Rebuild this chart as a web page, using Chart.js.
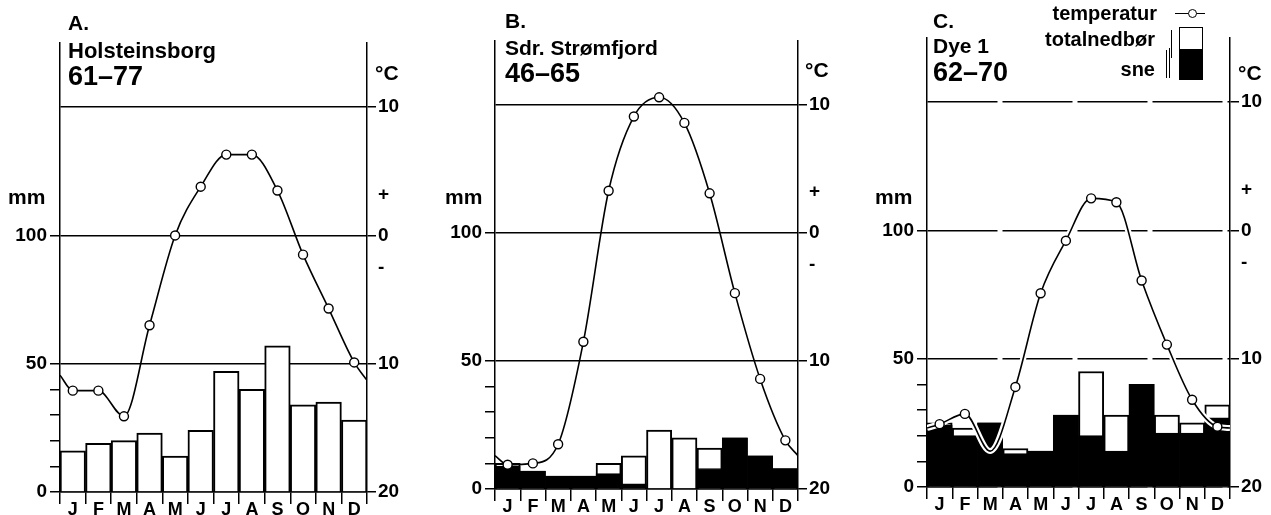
<!DOCTYPE html>
<html>
<head>
<meta charset="utf-8">
<script src="https://cdn.jsdelivr.net/npm/chart.js@4.4.1/dist/chart.umd.min.js"></script>
<style>
body { margin:0; background:#fff; width:1271px; height:515px; overflow:hidden; position:relative; font-family:"Liberation Sans", Arial, sans-serif; color:#000; }
canvas { position:absolute; top:0; }
.t { position:absolute; line-height:1; font-weight:bold; white-space:nowrap; }
.r { text-align:right; }
</style>
</head>
<body>
<canvas id="chartA" width="430" height="515" style="left:0"></canvas>
<canvas id="chartB" width="420" height="515" style="left:430px"></canvas>
<canvas id="chartC" width="421" height="515" style="left:850px"></canvas>

<!-- A -->
<div class="t" style="left:68px;top:12px;font-size:21px">A.</div>
<div class="t" style="left:68px;top:40px;font-size:22px">Holsteinsborg</div>
<div class="t" style="left:68px;top:63px;font-size:27px">61–77</div>
<div class="t" style="left:375px;top:62px;font-size:21px">°C</div>
<div class="t" style="left:8px;top:186px;font-size:21px">mm</div>
<!-- B -->
<div class="t" style="left:505px;top:10px;font-size:21px">B.</div>
<div class="t" style="left:505px;top:37px;font-size:21px">Sdr. Strømfjord</div>
<div class="t" style="left:505px;top:60px;font-size:27px">46–65</div>
<div class="t" style="left:805px;top:59px;font-size:21px">°C</div>
<div class="t" style="left:445px;top:186px;font-size:21px">mm</div>
<!-- C -->
<div class="t" style="left:933px;top:10px;font-size:21px">C.</div>
<div class="t" style="left:933px;top:35px;font-size:21px">Dye 1</div>
<div class="t" style="left:933px;top:59px;font-size:27px">62–70</div>
<div class="t" style="left:1238px;top:62px;font-size:21px">°C</div>
<div class="t" style="left:875px;top:186px;font-size:21px">mm</div>

<!-- legend -->
<div class="t r" style="left:1000px;width:157px;top:3px;font-size:20px">temperatur</div>
<div class="t r" style="left:1000px;width:155px;top:29px;font-size:20px">totalnedbør</div>
<div class="t r" style="left:1000px;width:155px;top:59px;font-size:20px">sne</div>
<div style="position:absolute;left:1175px;top:13px;width:30px;height:0;border-top:1.5px solid #000"></div>
<div style="position:absolute;left:1188px;top:9px;width:7px;height:7px;border:1.5px solid #000;border-radius:50%;background:#fff"></div>
<div style="position:absolute;left:1179px;top:27px;width:22px;height:51px;border:1.5px solid #000;background:linear-gradient(#fff 0 21px,#000 21px)"></div>
<div style="position:absolute;left:1171px;top:30px;width:0;height:28px;border-left:1px solid #000"></div>
<div style="position:absolute;left:1166px;top:50px;width:0;height:28px;border-left:1px solid #000"></div>
<div style="position:absolute;left:1169px;top:48px;width:0;height:30px;border-left:1px solid #000"></div>

<script>
const months = ['J', 'F', 'M', 'A', 'M', 'J', 'J', 'A', 'S', 'O', 'N', 'D'];

// A. Holsteinsborg 61-77
const totalA = [16, 19, 20, 23, 14, 24, 47, 40, 57, 34, 35, 28];
const tempA = [-12.1, -12.1, -14.1, -7.0, 0, 3.8, 6.3, 6.3, 3.5, -1.5, -5.7, -9.9];
const tempEdgeA = [-10.9, -11.3];

// B. Sdr. Strømfjord 46-65
const totalB = [10, 7, 5, 5, 10, 13, 23, 20, 16, 20, 13, 8];
const snowB = [9, 7, 5, 5, 6, 2, 0, 0, 8, 20, 13, 8];
const tempB = [-18.1, -18.0, -16.5, -8.5, 3.3, 9.1, 10.6, 8.6, 3.1, -4.7, -11.4, -16.2];
const tempEdgeB = [-17.4, -17.4];

// C. Dye 1 62-70
const totalC = [25, 23, 25, 15, 14, 28, 45, 28, 40, 28, 25, 32];
const snowC = [24, 20, 25, 13, 14, 28, 20, 14, 40, 21, 21, 27];
const tempC = [-15.1, -14.3, -17.2, -12.2, -4.9, -0.8, 2.5, 2.2, -3.9, -8.9, -13.2, -15.3];
const tempEdgeC = [-15.4, -15.4];

const mmTicks = [0, 10, 20, 30, 40, 50, 100, 150];
const mmLabels = [0, 50, 100];
const degTicks = [-20, -10, -2.5, 0, 3.2, 10];
const degLabels = { '-20': '20', '-10': '10', '-2.5': '-', '0': '0', '3.2': '+', '10': '10' };

const tickFont = { family: '"Liberation Sans", Arial, sans-serif', size: 19, weight: 'bold' };

function buildChart(id, p) {
    const ctx = document.getElementById(id).getContext('2d');
    const W = ctx.canvas.width, H = ctx.canvas.height;

    // temperaturkurve: kanter + månedsmidter
    const line = [{ x: 0, y: p.edges[0] }]
        .concat(p.temp.map((v, i) => ({ x: i + 0.5, y: v })))
        .concat([{ x: 12, y: p.edges[1] }]);
    const last = line.length - 1;

    const datasets = [{
        type: 'line', xAxisID: 'x2', yAxisID: 'y2', data: line,
        borderColor: '#000', borderWidth: 1.6, cubicInterpolationMode: 'monotone',
        pointRadius: c => (c.dataIndex === 0 || c.dataIndex === last || p.noPoint.includes(c.dataIndex - 1)) ? 0 : 4.5,
        pointBackgroundColor: '#fff', pointBorderColor: '#000', pointBorderWidth: 1.4,
        order: 0
    }];
    if (p.halo) {
        datasets.push({
            type: 'line', xAxisID: 'x2', yAxisID: 'y2', data: line,
            borderColor: '#fff', borderWidth: 6, cubicInterpolationMode: 'monotone',
            pointRadius: 0, order: 1
        });
    }
    if (p.snow) {
        datasets.push({
            type: 'bar', data: p.snow, backgroundColor: '#000', borderColor: '#000', borderWidth: 1,
            grouped: false, barPercentage: 1, categoryPercentage: 1, order: 2
        });
    }
    datasets.push({
        type: 'bar', data: p.total, backgroundColor: '#fff', borderColor: '#000', borderWidth: 2,
        grouped: false, barPercentage: 1, categoryPercentage: 1, order: 3
    });

    const dash = p.dashed ? [70, 5] : [];

    return new Chart(ctx, {
        type: 'bar',
        data: { labels: months, datasets: datasets },
        options: {
            responsive: false,
            animation: false,
            devicePixelRatio: 1,
            layout: { padding: { top: p.top, left: 0, right: 0, bottom: 0 } },
            plugins: { legend: { display: false }, tooltip: { enabled: false } },
            scales: {
                x: {
                    type: 'category', offset: true,
                    grid: { offset: true, drawOnChartArea: false, color: '#000', tickLength: 12, lineWidth: 1.5 },
                    border: { display: true, color: '#000', width: 1.5 },
                    ticks: { color: '#000', font: { family: tickFont.family, size: 18, weight: 'bold' }, padding: -5, maxRotation: 0, autoSkip: false },
                    afterFit: s => { s.height = H - p.bottom; }
                },
                x2: { type: 'linear', display: false, offset: false, min: 0, max: 12, grid: { offset: false } },
                y: {
                    position: 'left', min: 0, max: 175,
                    afterBuildTicks: s => { s.ticks = mmTicks.map(v => ({ value: v })); },
                    grid: {
                        color: c => (c.tick && mmTicks.indexOf(c.tick.value) > 0 && c.tick.value < 50) ? 'rgba(0,0,0,0)' : '#000',
                        tickColor: c => (c.tick && c.tick.value === 150) ? 'rgba(0,0,0,0)' : '#000',
                        tickLength: 10, lineWidth: 1.5
                    },
                    border: { display: true, color: '#000', width: 1.5, dash: dash },
                    ticks: { color: '#000', font: tickFont, padding: 3, callback: v => mmLabels.includes(v) ? String(v) : '' },
                    afterFit: s => { s.width = p.left; }
                },
                y2: {
                    position: 'right', min: -20, max: 15,
                    afterBuildTicks: s => { s.ticks = degTicks.map(v => ({ value: v })); },
                    grid: {
                        drawOnChartArea: false, tickLength: 9, lineWidth: 1.5,
                        tickColor: c => (c.tick && (c.tick.value === -2.5 || c.tick.value === 3.2)) ? 'rgba(0,0,0,0)' : '#000'
                    },
                    border: { display: true, color: '#000', width: 1.5 },
                    ticks: { color: '#000', font: tickFont, padding: 2, callback: v => degLabels[String(v)] },
                    afterFit: s => { s.width = W - p.right; }
                }
            }
        }
    });
}

buildChart('chartA', { total: totalA, temp: tempA, edges: tempEdgeA, noPoint: [], left: 60, right: 367, top: 43, bottom: 492 });
buildChart('chartB', { total: totalB, snow: snowB, temp: tempB, edges: tempEdgeB, noPoint: [], left: 65, right: 368, top: 41, bottom: 489 });
buildChart('chartC', { total: totalC, snow: snowC, temp: tempC, edges: tempEdgeC, noPoint: [2], halo: true, dashed: true, left: 77, right: 380, top: 38, bottom: 487 });
</script>
</body>
</html>
